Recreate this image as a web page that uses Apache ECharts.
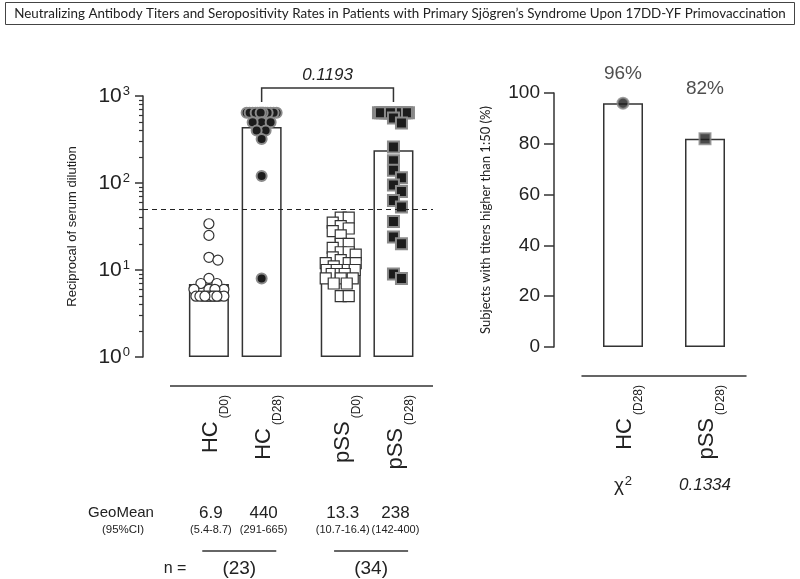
<!DOCTYPE html>
<html>
<head>
<meta charset="utf-8">
<script src="https://cdn.jsdelivr.net/npm/echarts@6/dist/echarts.min.js"></script>
<style>
  html, body { margin: 0; padding: 0; background: #fff; }
  #main { width: 800px; height: 579px; }
</style>
</head>
<body>
<div id="main"></div>
<script>
// groups on the titer panel
var groups = ['HC', 'HC', 'pSS', 'pSS'];
var days = ['D0', 'D28', 'D0', 'D28'];

// reciprocal serum dilution, one value per subject
var hcD0 = [34, 25, 14, 13, 8, 7, 7, 6, 6, 6, 6, 5, 5, 5, 5, 5, 5, 5, 5, 5, 5, 5, 5];
var hcD28 = [640, 640, 640, 640, 640, 640, 640, 640, 640, 640, 640, 640, 640, 640, 640,
  500, 500, 500, 400, 400, 320, 120, 8];
var pssD0 = [40, 40, 35, 32, 30, 28, 25, 20, 20, 18, 16, 16, 15, 14, 13, 12, 12, 12, 11,
  10, 10, 10, 10, 10, 9, 9, 9, 8, 8, 8, 7, 7, 5, 5];
var pssD28 = [640, 640, 640, 640, 640, 640, 640, 640, 640, 640, 640, 640, 640, 640, 640, 640, 640, 640, 640,
  560, 490, 260, 180, 140, 115, 95, 80, 63, 53, 36, 24, 20, 9, 8];

var geoMean = [6.9, 440, 13.3, 238];
var geoCI = ['5.4-8.7', '291-665', '10.7-16.4', '142-400'];
var nSubjects = [23, 34];
var pValue = '0.1193';
var threshold = 50;
var yMinor = [2, 3, 4, 5, 6, 7, 8, 9, 20, 30, 40, 50, 60, 70, 80, 90, 200, 300, 400, 500, 600, 700, 800, 900];

// seropositivity panel
var seroGroups = ['HC', 'pSS'];
var seroRate = [96, 82];
var chiP = '0.1334';

// layout: the titer panel uses 11 equal slots, groups sit in these ones
var SLOTS = 11;
var slot = [2, 4, 7, 9];
var FONT = '"Liberation Sans", Arial, sans-serif';
var INK = '#222';
var PPD = 261 / 3; // pixels per decade on the log axis

// simple beeswarm: horizontal offsets so the dots do not pile on each other
function swarm(vals, size, half, square) {
  var placed = [];
  var offs = [];
  var cand = [0];
  for (var d = 1; d <= half; d++) { cand.push(d, -d); }
  var order = vals.map(function (v, i) { return i; }).sort(function (a, b) { return vals[b] - vals[a]; });
  order.forEach(function (i) {
    var y = Math.log10(vals[i]) * PPD;
    var best = 0, bestD = -1;
    for (var c = 0; c < cand.length; c++) {
      var md = Infinity;
      placed.forEach(function (p) {
        var dist = square ? Math.max(Math.abs(p.x - cand[c]), Math.abs(p.y - y))
                          : Math.hypot(p.x - cand[c], p.y - y);
        md = Math.min(md, dist);
      });
      if (md >= size) { best = cand[c]; break; }
      if (md > bestD) { bestD = md; best = cand[c]; }
    }
    placed.push({ x: best, y: y });
    offs[i] = best;
  });
  return offs;
}

function dots(vals, g, sym, size, filled) {
  var off = swarm(vals, size * (sym === 'rect' ? 0.72 : 0.9), 15, sym === 'rect');
  return {
    type: 'scatter',
    xAxisIndex: 0,
    yAxisIndex: 0,
    z: 4,
    symbol: sym,
    symbolSize: size,
    itemStyle: filled
      ? { color: '#1c1c1c', borderColor: '#8a8a8a', borderWidth: 2, opacity: 1 }
      : { color: '#fff', borderColor: '#333', borderWidth: 1.2, opacity: 1 },
    data: vals.map(function (v, k) {
      return { value: [slot[g], v], symbolOffset: [off[k], 0] };
    })
  };
}

var cats = [];
var bars = [];
for (var i = 0; i < SLOTS; i++) { cats.push(''); bars.push('-'); }
slot.forEach(function (s, g) {
  cats[s] = groups[g] + '|' + days[g];
  bars[s] = geoMean[g];
});

// group name with the day as a subscript (labels are turned 90 degrees)
function catLabel(v) {
  if (!v) return '';
  var p = v.split('|');
  return '{m|' + p[0] + '}{s|(' + p[1] + ')}';
}
var catRich = {
  m: { fontSize: 22, fontFamily: FONT, color: INK, lineHeight: 22, padding: [13, 0, 0, 0], verticalAlign: 'top' },
  s: { fontSize: 12, fontFamily: FONT, color: INK, lineHeight: 44, padding: [0, 0, 0, 3], verticalAlign: 'bottom' }
};

var chart = echarts.init(document.getElementById('main'));

var option = {
  animation: false,
  title: {
    text: 'Neutralizing Antibody Titers and Seropositivity Rates in Patients with Primary Sjögren\u2019s Syndrome Upon 17DD-YF Primovaccination',
    left: 'center',
    top: 2,
    padding: [5, 9],
    borderColor: '#444',
    borderWidth: 1,
    textStyle: { fontFamily: 'Lato', fontSize: 13.4, fontWeight: 'normal', color: INK }
  },
  grid: [
    { left: 143, top: 96, width: 290, height: 261 },
    { left: 582, top: 93, width: 164, height: 254 }
  ],
  xAxis: [{
    type: 'category',
    gridIndex: 0,
    data: cats,
    axisLine: { show: false },
    axisTick: { show: false },
    axisLabel: { interval: 0, rotate: 90, margin: 38, formatter: catLabel, rich: catRich }
  }, {
    type: 'category',
    gridIndex: 1,
    data: seroGroups.map(function (g) { return g + '|D28'; }),
    offset: 29,
    axisLine: { onZero: false, lineStyle: { color: '#333', width: 1.5 } },
    axisTick: { show: false },
    axisLabel: { interval: 0, rotate: 90, margin: 9, formatter: catLabel, rich: catRich }
  }],
  yAxis: [{
    type: 'log',
    gridIndex: 0,
    logBase: 10,
    min: 1,
    max: 1000,
    name: 'Reciprocal of serum dilution',
    nameLocation: 'middle',
    nameGap: 64,
    nameTextStyle: { fontFamily: FONT, fontSize: 13, color: INK },
    axisLine: { show: true, lineStyle: { color: '#333', width: 1.5 } },
    axisTick: { show: true, length: 8, lineStyle: { color: '#333', width: 1.5 } },
    splitLine: { show: false },
    axisLabel: {
      margin: 13,
      formatter: function (v) { return '{b|10}{e|' + Math.round(Math.log10(v)) + '}'; },
      rich: {
        b: { fontSize: 21, fontFamily: FONT, color: INK, lineHeight: 22, verticalAlign: 'bottom' },
        e: { fontSize: 13, fontFamily: FONT, color: INK, lineHeight: 13, padding: [0, 0, 9, 1], verticalAlign: 'top' }
      }
    }
  }, {
    type: 'log',
    gridIndex: 0,
    position: 'left',
    logBase: 10,
    min: 1,
    max: 1000,
    axisLine: { show: false },
    axisLabel: { show: false },
    splitLine: { show: false },
    axisTick: { show: true, length: 4, customValues: yMinor, lineStyle: { color: '#333', width: 1.2 } }
  }, {
    type: 'value',
    gridIndex: 1,
    min: 0,
    max: 100,
    interval: 20,
    offset: 28,
    name: 'Subjects with titers higher than 1:50 (%)',
    nameLocation: 'middle',
    nameGap: 62,
    nameTextStyle: { fontFamily: 'Lato', fontSize: 13, color: INK },
    axisLine: { show: true, lineStyle: { color: '#333', width: 1.5 } },
    axisTick: { show: true, length: 10, lineStyle: { color: '#333', width: 1.5 } },
    splitLine: { show: false },
    axisLabel: { margin: 14, fontSize: 19, fontFamily: FONT, color: INK }
  }],
  series: [
    {
      type: 'line',
      xAxisIndex: 0,
      yAxisIndex: 0,
      z: 1,
      data: bars.map(function () { return '-'; }),
      markLine: {
        silent: true,
        symbol: 'none',
        label: { show: false },
        lineStyle: { type: [5, 4], color: INK, width: 1.2 },
        data: [{ yAxis: threshold }]
      }
    },
    {
      type: 'bar',
      xAxisIndex: 0,
      yAxisIndex: 0,
      z: 2,
      barWidth: 40,
      data: bars,
      itemStyle: { color: '#fff', borderColor: '#333', borderWidth: 1.5 }
    },
    dots(hcD0, 0, 'circle', 10, false),
    dots(hcD28, 1, 'circle', 10, true),
    dots(pssD0, 2, 'rect', 11, false),
    dots(pssD28, 3, 'rect', 11, true),
    {
      type: 'bar',
      xAxisIndex: 1,
      yAxisIndex: 2,
      z: 2,
      barWidth: 40,
      data: seroRate,
      itemStyle: { color: '#fff', borderColor: '#333', borderWidth: 1.5 }
    },
    {
      type: 'scatter',
      xAxisIndex: 1,
      yAxisIndex: 2,
      z: 4,
      symbolSize: 11,
      itemStyle: { color: '#1c1c1c', borderColor: '#8a8a8a', borderWidth: 2 },
      label: {
        show: true,
        position: 'top',
        fontSize: 19,
        fontFamily: FONT,
        color: INK,
        formatter: function (p) { return p.value[1] + '%'; }
      },
      data: seroRate.map(function (v, k) {
        return {
          value: [k, v],
          symbol: k === 0 ? 'circle' : 'rect',
          label: { distance: k === 0 ? 13 : 34 }
        };
      })
    }
  ]
};

chart.setOption(option);

// annotations placed from the axes
var gx = slot.map(function (s) { return chart.convertToPixel({ xAxisIndex: 0 }, s); });
var rx = seroGroups.map(function (g, k) { return chart.convertToPixel({ xAxisIndex: 1 }, k); });

function txt(x, y, s, size, extra) {
  var st = { text: s, fontSize: size, fontFamily: FONT, fill: INK, align: 'center', verticalAlign: 'middle' };
  for (var k in extra || {}) st[k] = extra[k];
  return { type: 'text', x: x, y: y, style: st, z: 10 };
}
function seg(x1, y1, x2, y2) {
  return { type: 'line', shape: { x1: x1, y1: y1, x2: x2, y2: y2 }, style: { stroke: '#333', lineWidth: 1.5 }, z: 10 };
}

var gfx = [
  { type: 'polyline', shape: { points: [[gx[1], 102], [gx[1], 88], [gx[3], 88], [gx[3], 102]] },
    style: { stroke: '#333', lineWidth: 1.5, fill: null }, z: 10 },
  txt((gx[1] + gx[3]) / 2, 75, pValue, 17, { fontStyle: 'italic' }),
  seg(170, 386, 433, 386),
  txt(121, 513, 'GeoMean', 15),
  txt(123, 530, '(95%CI)', 11.5)
];
geoMean.forEach(function (v, g) {
  gfx.push(txt(gx[g] + 2, 513, String(v), 17));
  gfx.push(txt(gx[g] + 2, 530, '(' + geoCI[g] + ')', 11));
});
nSubjects.forEach(function (n, k) {
  var mid = (gx[2 * k] + gx[2 * k + 1]) / 2 + 4;
  gfx.push(seg(mid - 37, 551, mid + 37, 551));
  gfx.push(txt(mid, 569, '(' + n + ')', 19));
});
gfx.push(txt(175, 569, 'n =', 16));
gfx.push({
  type: 'text', x: rx[0], y: 485, z: 10,
  style: {
    text: '{a|\u03c7}{b|2}', align: 'center', verticalAlign: 'middle',
    rich: {
      a: { fontSize: 19, fontFamily: FONT, fill: INK, lineHeight: 20, verticalAlign: 'bottom' },
      b: { fontSize: 13, fontFamily: FONT, fill: INK, lineHeight: 13, padding: [0, 0, 9, 1], verticalAlign: 'top' }
    }
  }
});
gfx.push(txt(rx[1], 485, chiP, 17, { fontStyle: 'italic' }));

chart.setOption({ graphic: gfx });
</script>
</body>
</html>
